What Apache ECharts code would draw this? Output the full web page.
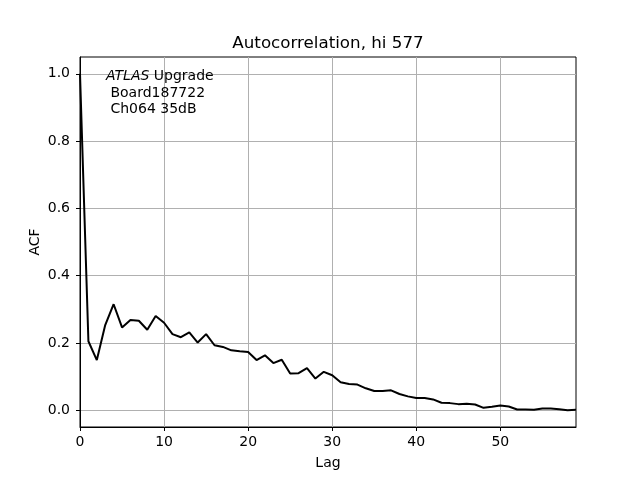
<!DOCTYPE html>
<html>
<head>
<meta charset="utf-8">
<script src="https://cdn.jsdelivr.net/npm/echarts@6/dist/echarts.min.js"></script>
<style>html,body{margin:0;padding:0;background:#fff}#c{width:640px;height:480px}</style>
</head>
<body>
<div id="c"></div>
<script>
const lags = Array.from({length: 60}, (_, i) => i);
const acf = [
  1.0, 0.205, 0.149, 0.253, 0.315, 0.246, 0.268, 0.266, 0.239, 0.28,
  0.26, 0.226, 0.217, 0.231, 0.201, 0.226, 0.193, 0.188, 0.178, 0.175,
  0.173, 0.149, 0.163, 0.14, 0.15, 0.109, 0.11, 0.125, 0.094, 0.114,
  0.104, 0.083, 0.078, 0.076, 0.065, 0.057, 0.057, 0.059, 0.048, 0.041,
  0.036, 0.036, 0.032, 0.022, 0.021, 0.018, 0.019, 0.017, 0.007, 0.01,
  0.014, 0.011, 0.002, 0.002, 0.001, 0.005, 0.005, 0.003, 0.0, 0.001
];
const xTicks = [0, 10, 20, 30, 40, 50];
const yTicks = [0.0, 0.2, 0.4, 0.6, 0.8, 1.0];
const titleText = 'Autocorrelation, hi 577';
const xName = 'Lag';
const yName = 'ACF';
const font = 'DejaVu Sans';

const chart = echarts.init(document.getElementById('c'), null, {renderer: 'canvas'});
chart.setOption({
  animation: false,
  backgroundColor: '#fff',
  textStyle: {fontFamily: font},
  grid: {left: 80, right: 64, top: 57, bottom: 53, show: true, borderColor: '#000', borderWidth: 1, backgroundColor: 'transparent'},
  xAxis: {
    type: 'value', min: 0, max: 59, splitNumber: 6,
    name: xName, nameLocation: 'middle', nameGap: 29,
    nameTextStyle: {fontFamily: font, fontSize: 14, color: '#000'},
    axisLine: {show: true, onZero: false, lineStyle: {color: '#000', width: 1}},
    axisTick: {show: true, length: 4, customValues: xTicks, lineStyle: {color: '#000'}},
    axisLabel: {fontFamily: font, fontSize: 14, color: '#000', margin: 8, customValues: xTicks,
      formatter: v => String(v)},
    splitLine: {show: true, lineStyle: {color: '#b0b0b0', width: 1}}
  },
  yAxis: {
    type: 'value', min: -0.05, max: 1.05, splitNumber: 5,
    axisLine: {show: true, onZero: false, lineStyle: {color: '#000', width: 1}},
    axisTick: {show: true, length: 4, customValues: yTicks, lineStyle: {color: '#000'}},
    axisLabel: {fontFamily: font, fontSize: 14, color: '#000', margin: 10, customValues: yTicks,
      formatter: v => v.toFixed(1)},
    splitLine: {show: true, lineStyle: {color: '#b0b0b0', width: 1}}
  },
  series: [{
    type: 'line',
    data: lags.map((l, i) => [l, acf[i]]),
    showSymbol: false,
    lineStyle: {color: '#000', width: 2},
    itemStyle: {color: '#000'}
  }],
  graphic: [
    {type: 'text', x: 328, y: 44, z: 10, style: {text: titleText, fontFamily: font, fontSize: 16.7, fill: '#000', align: 'center', verticalAlign: 'middle'}},
    {type: 'text', x: 35, y: 242, rotation: Math.PI / 2, z: 10, style: {text: yName, fontFamily: font, fontSize: 14, fill: '#000', align: 'center', verticalAlign: 'middle'}},
    {type: 'text', x: 106, y: 68, z: 10, style: {
      text: '{i|ATLAS} Upgrade\n Board187722\n Ch064 35dB',
      fontFamily: font, fontSize: 14, fill: '#000', lineHeight: 16.7,
      rich: {i: {fontStyle: 'italic', fontFamily: font, fontSize: 14, fill: '#000'}}
    }}
  ]
});
</script>
</body>
</html>
